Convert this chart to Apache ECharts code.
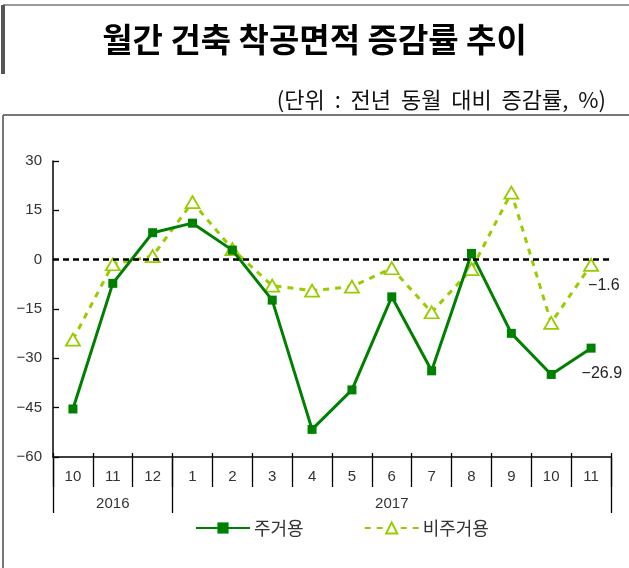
<!DOCTYPE html>
<html><head><meta charset="utf-8">
<script src="https://cdn.jsdelivr.net/npm/echarts@6/dist/echarts.min.js"></script>
<style>html,body{margin:0;padding:0;background:#fff}#c{width:629px;height:568px}</style>
</head><body><div id="c"></div>
<script>
const months = ['10','11','12','1','2','3','4','5','6','7','8','9','10','11'];
const years = ['','2016','','','','','','','2017','','','','',''];
const residential = [-45.4, -7.2, 8.2, 11.1, 2.9, -12.3, -51.6, -39.6, -11.3, -33.8, 1.9, -22.4, -34.9, -26.9];
const nonResidential = [-24.3, -1.4, 1.1, 17.5, 3.2, -7.9, -9.4, -8.2, -2.6, -16.0, -2.9, 20.4, -19.2, -1.6];
const yTicks = {min: -60, max: 30, interval: 15};
const seriesNames = ['주거용', '비주거용'];

const KR = '"Noto Sans CJK KR", sans-serif';
const NUM = '"Liberation Sans", Arial, sans-serif';
const minus = v => String(v).replace('-', '\u2212');
const last = months.length - 1;

const chart = echarts.init(document.getElementById('c'));
chart.setOption({
  animation: false,
  backgroundColor: '#fff',
  title: [
    {text: '월간 건축 착공면적 증감률 추이', left: 'center', top: 18,
     textStyle: {fontFamily: KR, fontSize: 33, fontWeight: 'bold', color: '#000'}},
    {text: '(단위  :  전년  동월  대비  증감률,  %)', right: 18, top: 84,
     textStyle: {fontFamily: KR, fontSize: 22, fontWeight: 'normal', color: '#111'}}
  ],
  graphic: [
    {type: 'line', shape: {x1: 3, y1: 5, x2: 629, y2: 5}, style: {stroke: '#999', lineWidth: 2}},
    {type: 'rect', shape: {x: 1, y: 5, width: 4, height: 69}, style: {fill: '#555'}},
    {type: 'line', shape: {x1: 3, y1: 115, x2: 629, y2: 115}, style: {stroke: '#777', lineWidth: 2}},
    {type: 'line', shape: {x1: 3, y1: 115, x2: 3, y2: 568}, style: {stroke: '#777', lineWidth: 2}}
  ],
  legend: {
    left: 195, top: 519, padding: 0, itemWidth: 54, itemHeight: 14, itemGap: 60,
    textStyle: {fontFamily: KR, fontSize: 18, color: '#333', padding: [0, 0, 0, -1]},
    data: seriesNames
  },
  grid: {left: 53, right: 18, top: 161, bottom: 111},
  xAxis: [
    {type: 'category', data: months, boundaryGap: true,
     axisLine: {onZero: false, lineStyle: {color: '#000', width: 1.5}},
     axisTick: {show: true, inside: false, length: 30, lineStyle: {color: '#000', width: 1.3}},
     axisLabel: {margin: 12, fontFamily: NUM, fontSize: 15, color: '#333'}},
    {type: 'category', data: months, position: 'bottom', offset: 0, boundaryGap: true,
     axisLine: {show: false, onZero: false},
     axisTick: {show: true, inside: true, length: 4, lineStyle: {color: '#000', width: 1.3}},
     axisLabel: {show: false}},
    {type: 'category', data: years, position: 'bottom', offset: 0, boundaryGap: true,
     axisLine: {show: false, onZero: false},
     axisTick: {show: true, inside: false, length: 56, interval: (i) => i === 0 || i === 3,
                lineStyle: {color: '#000', width: 1.3}},
     axisLabel: {margin: 39, interval: 0, fontFamily: NUM, fontSize: 15, color: '#333'}}
  ],
  yAxis: {
    type: 'value', min: yTicks.min, max: yTicks.max, interval: yTicks.interval,
    axisLine: {show: true, lineStyle: {color: '#000', width: 1.5}},
    axisTick: {show: true, inside: true, length: 6, lineStyle: {color: '#000', width: 1.3}},
    splitLine: {show: false},
    axisLabel: {margin: 11, fontFamily: NUM, fontSize: 15, color: '#333', formatter: minus}
  },
  series: [
    {name: seriesNames[1], type: 'line', data: nonResidential, z: 2,
     symbol: 'triangle', symbolSize: [14, 12],
     lineStyle: {color: '#99cc00', width: 3, type: [6, 6]},
     itemStyle: {color: '#fff', borderColor: '#99cc00', borderWidth: 1.8},
     label: {show: true, position: 'right', offset: [-16, 21], fontFamily: NUM, fontSize: 16, color: '#222',
             formatter: p => p.dataIndex === last ? minus(p.value) : ''},
     markLine: {silent: true, symbol: 'none', label: {show: false},
                lineStyle: {color: '#000', width: 2.5, type: [6, 4]},
                data: [{yAxis: 0}]}},
    {name: seriesNames[0], type: 'line', data: residential, z: 3,
     symbol: 'rect', symbolSize: 9,
     lineStyle: {color: '#008000', width: 3},
     itemStyle: {color: '#008000'},
     label: {show: true, position: 'right', offset: [-19, 25], fontFamily: NUM, fontSize: 16, color: '#222',
             formatter: p => p.dataIndex === last ? minus(p.value) : ''}}
  ]
});
</script></body></html>
